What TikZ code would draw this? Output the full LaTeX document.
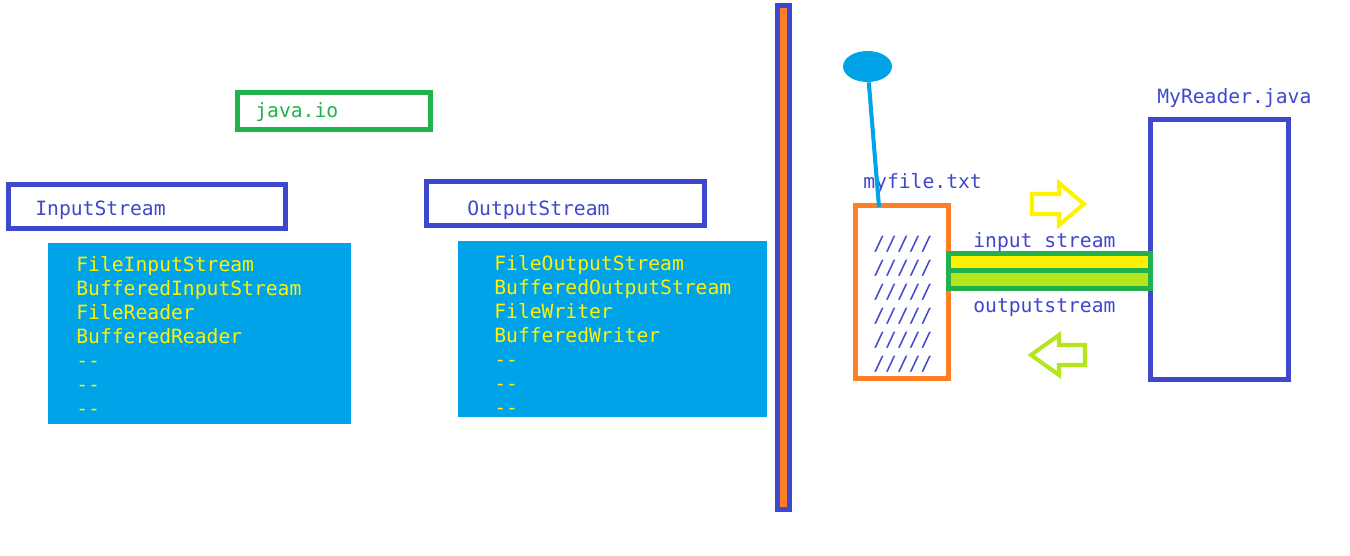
\documentclass[tikz,border=0pt]{standalone}
\usepackage{fontspec}
\setmonofont{DejaVu Sans Mono}
\usetikzlibrary{shapes.geometric}
\definecolor{cindigo}{HTML}{3F48CC}
\definecolor{cgreen}{HTML}{22B14C}
\definecolor{csky}{HTML}{00A2E8}
\definecolor{cyellow}{HTML}{FFF200}
\definecolor{clime}{HTML}{B5E61D}
\definecolor{corange}{HTML}{FF7F27}

\tikzset{
  mono/.style={font=\ttfamily\fontsize{11.2}{13.6}\selectfont, inner sep=0pt, anchor=base west},
  frame/.style={draw=cindigo, line width=2.8pt},
}

\begin{document}
\begin{tikzpicture}[x=0.02cm, y=-0.02cm]
\useasboundingbox (0,0) rectangle (1350,555);
%% ------------------------------------------------------------------ java.io
\draw[cgreen, line width=2.8pt] (237.5,92.5) rectangle (430.5,129.5);
\node[mono, text=cgreen] (javaio) at (255,117) {java.io};
% the two base classes
\draw[frame] (8.5,184.5) rectangle (285.5,228.5);
\node[mono, text=cindigo] (instream) at (35,215) {InputStream};
\draw[frame] (426.5,181.5) rectangle (704.5,225.5);
\node[mono, text=cindigo] (outstream) at (467,215) {OutputStream};
% their subclasses
\fill[csky] (48,243) rectangle (351,424);
\foreach \name [count=\i] in {FileInputStream,BufferedInputStream,FileReader,BufferedReader,-{}-,-{}-,-{}-}
  \node[mono, text=cyellow] (in\i) at (76,{271+24*(\i-1)}) {\name};
\fill[csky] (458,241) rectangle (767,417);
\foreach \name [count=\i] in {FileOutputStream,BufferedOutputStream,FileWriter,BufferedWriter,-{}-,-{}-,-{}-}
  \node[mono, text=cyellow] (out\i) at (494,{270+24*(\i-1)}) {\name};
%% ------------------------------------------------------------------ separator
\draw[cindigo, fill=corange, line width=2.55pt] (777.5,5.5) rectangle (789.5,509.5);
%% ------------------------------------------------------------------ file and reader
% the file, pinned
\draw[corange, line width=2.7pt] (855.5,205.5) rectangle (948.5,378.5);
\node[mono, text=cindigo] (fname) at (863,188) {myfile.txt};
\foreach \i in {0,...,5}
  \node[mono, text=cindigo] (row\i) at (873,{250+24*\i}) {/////};
\node[ellipse, fill=csky, inner sep=0pt, minimum width=0.98cm, minimum height=0.62cm] (pin) at (867.5,66.5) {};
\coordinate (pinfoot) at (879,207);
\draw[csky, line width=2.3pt] (pin) -- (pinfoot);
% the program
\draw[frame] (1150.5,119.5) rectangle (1288.5,379.5);
\node[mono, text=cindigo] (reader) at (1157,103) {MyReader.java};
% the pipe between them
\fill[cgreen] (946,251) rectangle (1153,291);
\fill[cyellow] (951,256) rectangle (1148,268);
\fill[clime] (951,273) rectangle (1148,286);
\node[mono, text=cindigo] (inlabel) at (973,247) {input stream};
\node[mono, text=cindigo] (outlabel) at (973,312) {outputstream};
% directions
\draw[cyellow, line width=2.3pt] (1032,194) -- (1059,194) -- (1059,183) -- (1084,204)
  -- (1059,225) -- (1059,214) -- (1032,214) -- cycle;
\draw[clime, line width=2.3pt] (1085,345) -- (1059,345) -- (1059,335) -- (1031,355)
  -- (1059,375) -- (1059,365) -- (1085,365) -- cycle;
\end{tikzpicture}
\end{document}
